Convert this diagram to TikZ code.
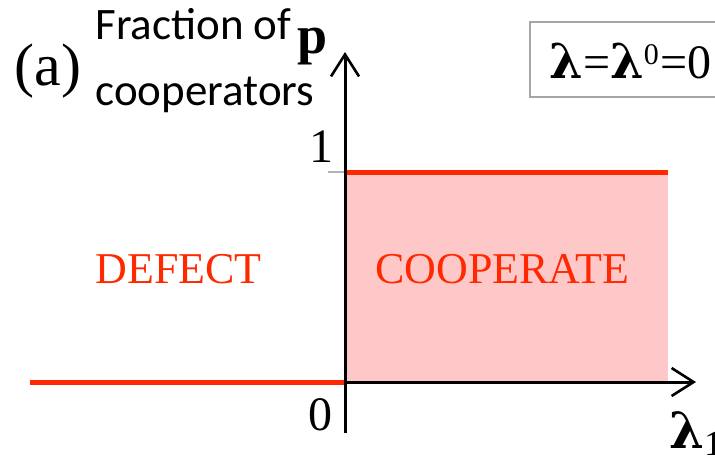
\documentclass[tikz,border=0pt]{standalone}
\usepackage{fontspec}
\setmainfont{Liberation Serif}
\newfontfamily\labelfont{Carlito}
\newfontfamily\lamfont{DejaVu Serif}
\usetikzlibrary{arrows.meta, positioning}
\definecolor{phasered}{RGB}{255,40,0}
\definecolor{phasepink}{RGB}{255,200,200}
\newcommand{\lam}{{\lamfont\bfseries λ}}

\begin{document}
\begin{tikzpicture}[x=0.5pt, y=-0.5pt,
    axis/.style={line width=1.5pt, -{Straight Barb[length=11pt, width=14pt, line width=1.3pt]}},
    phase/.style={line width=2.5pt, phasered},
    region/.style={text=phasered, font=\fontsize{22}{22}\selectfont, anchor=base west, inner sep=0pt},
    tick/.style={font=\fontsize{24}{24}\selectfont, anchor=base, inner sep=0pt}]
        \useasboundingbox (0,0) rectangle (715,457);
        \clip (0,0) rectangle (715,457);
        \coordinate (O) at (345,382);
        \coordinate (ybot) at (345,433);
        \coordinate (ytop) at (345,52);
        \coordinate (xend) at (696,382);
        \coordinate (left) at (30,382);
        \coordinate (one) at (345,172);
        \coordinate (onetick) at (328,172);
        \coordinate (topend) at (668,172);
        \fill[phasepink] (O) rectangle (topend);
        \draw[phase] (left) -- (O);
        \draw[phase] (one) -- (topend);
        \draw[gray!60, line width=1pt] (onetick) -- (one);
        \draw[axis] (ybot) -- (ytop);
        \draw[axis] (O) -- (xend);
        \node[region] (defect) at (95,283) {DEFECT};
        \node[region] (coop) at (375,283) {COOPERATE};
        \node[tick] (onelabel) at (321,162) {1};
        \node[tick] (zerolabel) at (320,430) {0};
        \node[anchor=base west, inner sep=0pt, font=\fontsize{27}{27}\selectfont\bfseries] (plabel) at (297,53) {p};
        \node[anchor=base west, inner sep=0pt, font=\fontsize{25}{25}\selectfont] (lamlabel) at (669,448) {\lam\textsubscript{1}};
        \node[anchor=base west, inner sep=0pt, font=\fontsize{30}{30}\selectfont] (panel) at (14,85) {(a)};
        \node[anchor=base west, inner sep=0pt, font=\labelfont\fontsize{22.5}{22.5}\selectfont] (fraclabel) at (95,39) {Fraction of};
        \node[anchor=base west, inner sep=0pt, font=\labelfont\fontsize{22.5}{22.5}\selectfont] (cooplabel) at (95,105) {cooperators};
        \draw[gray!70, line width=1pt] (530,22) rectangle (740,97);
        \node[anchor=base west, inner sep=0pt, font=\fontsize{24}{24}\selectfont] (lambdabox) at (549,78) {\lam=\lam\raisebox{7pt}{\fontsize{15}{15}\selectfont 0}\kern1pt=0};
\end{tikzpicture}
\end{document}
